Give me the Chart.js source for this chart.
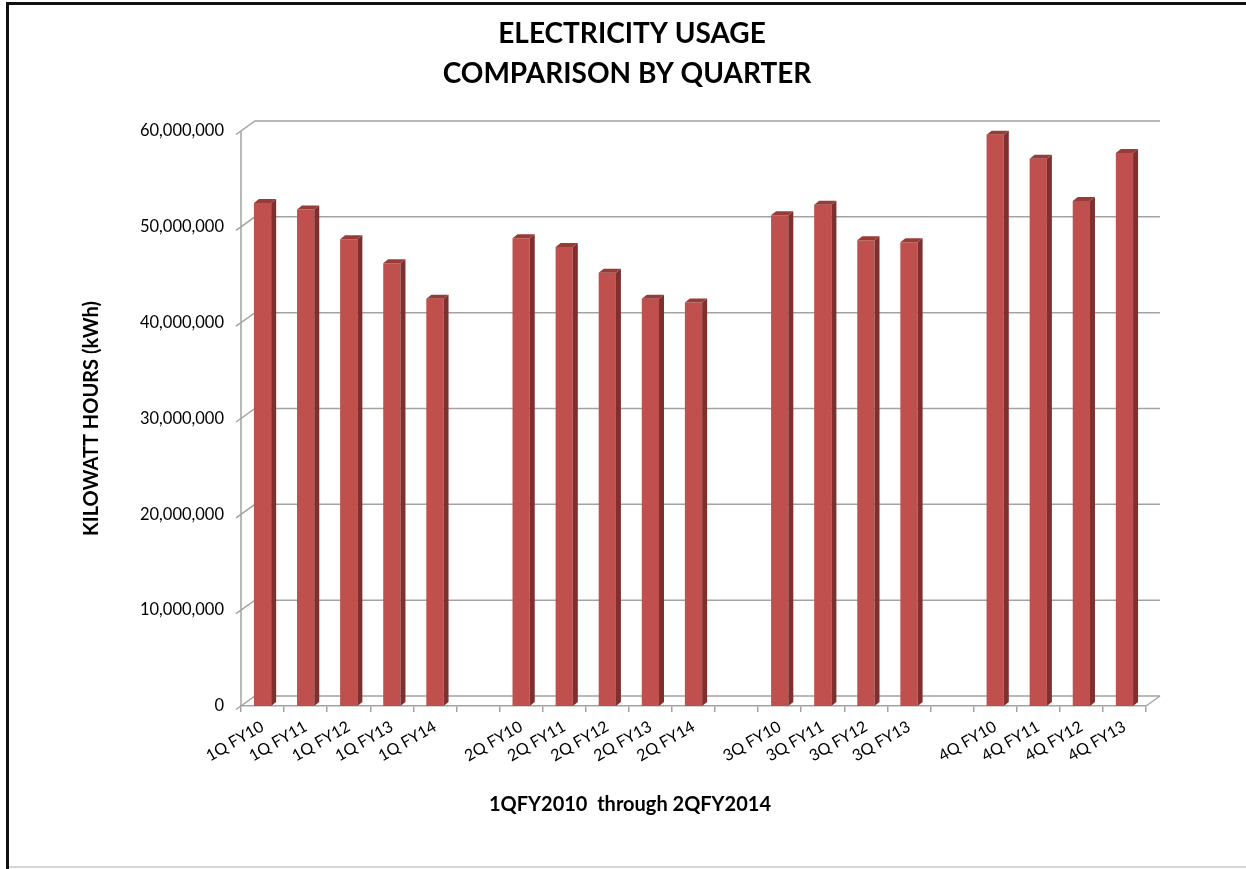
<!doctype html>
<html lang="en">
<head>
    <meta charset="utf-8">
    <title>Electricity Usage Comparison by Quarter</title>
    <style>
        * { margin: 0; padding: 0; }
        body { background: #fff; }
    </style>
</head>
<body>
    <canvas id="myChart" width="1246" height="869"></canvas>

    <script src="https://cdn.jsdelivr.net/npm/chart.js"></script>
    <script>
        // data ('' / null = empty gap between quarter groups)
        const quarters = [
            '1Q FY10', '1Q FY11', '1Q FY12', '1Q FY13', '1Q FY14', '',
            '2Q FY10', '2Q FY11', '2Q FY12', '2Q FY13', '2Q FY14', '',
            '3Q FY10', '3Q FY11', '3Q FY12', '3Q FY13', '',
            '4Q FY10', '4Q FY11', '4Q FY12', '4Q FY13'
        ];
        const usage = [
            52500000, 51800000, 48700000, 46200000, 42500000, null,
            48800000, 47900000, 45200000, 42500000, 42100000, null,
            51200000, 52300000, 48600000, 48400000, null,
            59600000, 57100000, 52700000, 57700000
        ];
        const yTickValues = [0, 10000000, 20000000, 30000000, 40000000, 50000000, 60000000];

        const FONT = 'Lato, "Open Sans", sans-serif';
        const GRID = '#a3a3a3';
        // depth offsets for the fake 3D look
        const WALL_DX = 14, WALL_DY = -10;
        const BAR_DX = 5, BAR_DY = -4;

        const pseudo3d = {
            id: 'pseudo3d',
            beforeDraw(chart) {
                const ctx = chart.ctx;
                ctx.save();
                ctx.fillStyle = '#fff';
                ctx.fillRect(0, 0, chart.width, chart.height);
                // frame
                ctx.fillStyle = '#111';
                ctx.fillRect(6, 2, chart.width - 6, 3);
                ctx.fillRect(6, 2, 3, chart.height);
                ctx.fillStyle = '#d6d6d6';
                ctx.fillRect(9, chart.height - 3, chart.width - 9, 2);
                ctx.restore();
            },
            beforeDatasetsDraw(chart) {
                const { ctx, chartArea: a, scales: { y } } = chart;
                ctx.save();
                ctx.strokeStyle = GRID;
                ctx.lineWidth = 1.5;
                // back wall gridlines + connectors from front axis
                yTickValues.forEach(v => {
                    const py = y.getPixelForValue(v);
                    ctx.beginPath();
                    ctx.moveTo(a.left - 5, py + 3.5);
                    ctx.lineTo(a.left + WALL_DX, py + WALL_DY);
                    ctx.lineTo(a.right + WALL_DX, py + WALL_DY);
                    ctx.stroke();
                });
                // front y axis line
                ctx.beginPath();
                ctx.moveTo(a.left, a.top);
                ctx.lineTo(a.left, a.bottom);
                // floor right edge
                ctx.moveTo(a.right, a.bottom);
                ctx.lineTo(a.right + WALL_DX, a.bottom + WALL_DY);
                ctx.stroke();
                ctx.restore();
            },
            afterDatasetsDraw(chart) {
                const ctx = chart.ctx;
                const meta = chart.getDatasetMeta(0);
                ctx.save();
                meta.data.forEach((bar, i) => {
                    if (usage[i] == null) return;
                    const { x, y, base, width } = bar.getProps(['x', 'y', 'base', 'width'], true);
                    const l = x - width / 2, r = x + width / 2;
                    // side face
                    ctx.fillStyle = '#7f302e';
                    ctx.beginPath();
                    ctx.moveTo(r, y);
                    ctx.lineTo(r + BAR_DX, y + BAR_DY);
                    ctx.lineTo(r + BAR_DX, base + BAR_DY);
                    ctx.lineTo(r, base);
                    ctx.closePath();
                    ctx.fill();
                    // top face
                    ctx.fillStyle = '#983c39';
                    ctx.beginPath();
                    ctx.moveTo(l, y);
                    ctx.lineTo(l + BAR_DX, y + BAR_DY);
                    ctx.lineTo(r + BAR_DX, y + BAR_DY);
                    ctx.lineTo(r, y);
                    ctx.closePath();
                    ctx.fill();
                });
                ctx.restore();
            },
            afterDraw(chart) {
                const ctx = chart.ctx;
                ctx.save();
                ctx.fillStyle = '#000';
                ctx.textAlign = 'center';
                ctx.textBaseline = 'middle';
                ctx.font = 'bold 28px ' + FONT;
                ctx.fillText('ELECTRICITY USAGE', 632, 34);
                ctx.fillText('COMPARISON BY QUARTER', 627, 74);
                ctx.font = 'bold 20px ' + FONT;
                ctx.fillText('1QFY2010  through 2QFY2014', 630, 805);
                ctx.restore();
            }
        };

        const data = {
            labels: quarters,
            datasets: [{
                label: 'kWh',
                data: usage,
                backgroundColor: '#c0504d',
                borderWidth: 0,
                barPercentage: 0.4,
                categoryPercentage: 1.0
            }]
        };

        const config = {
            type: 'bar',
            data,
            plugins: [pseudo3d],
            options: {
                responsive: false,
                animation: false,
                layout: { padding: { left: 80, right: 100, top: 131, bottom: 0 } },
                plugins: {
                    legend: { display: false },
                    tooltip: { enabled: false }
                },
                scales: {
                    x: {
                        afterFit: s => { s.height = 163; },
                        grid: {
                            display: true,
                            drawOnChartArea: false,
                            drawTicks: true,
                            tickLength: 6,
                            color: GRID,
                            lineWidth: 1.5
                        },
                        border: { display: true, color: GRID, width: 1.5 },
                        ticks: {
                            autoSkip: false,
                            maxRotation: 30,
                            minRotation: 30,
                            padding: 5,
                            color: '#000',
                            font: { family: FONT, size: 16 }
                        }
                    },
                    y: {
                        min: 0,
                        max: 60000000,
                        afterFit: s => { s.width = 161; },
                        afterBuildTicks: s => { s.ticks = yTickValues.map(v => ({ value: v })); },
                        grid: { display: false, drawTicks: false },
                        border: { display: false },
                        ticks: {
                            padding: 17,
                            color: '#000',
                            font: { family: FONT, size: 16.5 },
                            callback: v => v.toLocaleString('en-US')
                        },
                        title: {
                            display: true,
                            text: 'KILOWATT HOURS (kWh)',
                            color: '#000',
                            padding: 0,
                            font: { family: FONT, size: 20, weight: 'bold' }
                        }
                    }
                }
            }
        };

        window.chart = new Chart(document.getElementById('myChart'), config);
    </script>
</body>
</html>
